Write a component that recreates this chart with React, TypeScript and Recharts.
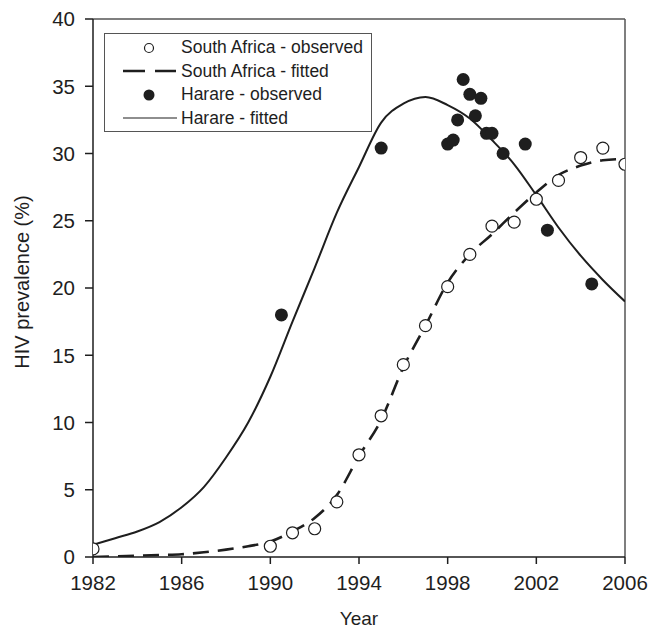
import React from "react";
import {
  ComposedChart,
  Line,
  Scatter,
  XAxis,
  YAxis,
  ReferenceLine,
  Legend,
} from "recharts";

// fitted curves, one value per year
const fitYears = [
  1982, 1983, 1984, 1985, 1986, 1987, 1988, 1989, 1990, 1991, 1992, 1993, 1994,
  1995, 1996, 1997, 1998, 1999, 2000, 2001, 2002, 2003, 2004, 2005, 2006,
];
const saFitted = [
  0.0, 0.05, 0.1, 0.15, 0.2, 0.35, 0.55, 0.8, 1.15, 1.9, 2.9, 4.6, 7.5, 10.2,
  14.1, 17.2, 20.4, 22.5, 24.0, 25.6, 27.1, 28.4, 29.1, 29.5, 29.6,
];
const harareFitted = [
  0.9, 1.4, 1.9, 2.6, 3.7, 5.2, 7.4, 10.0, 13.4, 17.5, 21.5, 25.6, 29.0, 32.3,
  33.7, 34.2, 33.6, 32.6, 31.0, 29.2, 26.9, 24.5, 22.4, 20.6, 19.0,
];

// observations
const saObsYears = [
  1982, 1990, 1991, 1992, 1993, 1994, 1995, 1996, 1997, 1998, 1999, 2000, 2001,
  2002, 2003, 2004, 2005, 2006,
];
const saObsValues = [
  0.6, 0.8, 1.8, 2.1, 4.1, 7.6, 10.5, 14.3, 17.2, 20.1, 22.5, 24.6, 24.9, 26.6,
  28.0, 29.7, 30.4, 29.2,
];
const harareObsYears = [
  1990.5, 1995, 1998, 1998.25, 1998.45, 1998.7, 1999, 1999.25, 1999.5, 1999.75,
  2000, 2000.5, 2001.5, 2002.5, 2004.5,
];
const harareObsValues = [
  18.0, 30.4, 30.7, 31.0, 32.5, 35.5, 34.4, 32.8, 34.1, 31.5, 31.5, 30.0, 30.7,
  24.3, 20.3,
];

const xTicks = [1982, 1986, 1990, 1994, 1998, 2002, 2006];
const yTicks = [0, 5, 10, 15, 20, 25, 30, 35, 40];

const legendItems = [
  { name: "South Africa - observed", kind: "open" },
  { name: "South Africa - fitted", kind: "dash" },
  { name: "Harare - observed", kind: "filled" },
  { name: "Harare - fitted", kind: "solid" },
];

const toPoints = (xs: number[], ys: number[]) =>
  xs.map((x, i) => ({ year: x, value: ys[i] }));

const saFitData = toPoints(fitYears, saFitted);
const harareFitData = toPoints(fitYears, harareFitted);
const saObsData = toPoints(saObsYears, saObsValues);
const harareObsData = toPoints(harareObsYears, harareObsValues);

const FONT = "'Liberation Sans', Arial, sans-serif";
const INK = "#1e1e1e";

const OpenDot = (props: any) => (
  <circle cx={props.cx} cy={props.cy} r={6} fill="#fff" stroke={INK} strokeWidth={1.2} />
);
const FilledDot = (props: any) => (
  <circle cx={props.cx} cy={props.cy} r={6.5} fill={INK} stroke="none" />
);

const YLabel = () => (
  <text
    x={22}
    y={282}
    transform="rotate(-90 22 282)"
    textAnchor="middle"
    dominantBaseline="central"
    fill={INK}
    fontSize={20}
    fontFamily={FONT}
  >
    HIV prevalence (%)
  </text>
);

const LegendBox = () => (
  <div
    style={{
      border: "1px solid #555",
      background: "#fff",
      width: 268,
      height: 99,
      boxSizing: "border-box",
      paddingTop: 2,
      fontFamily: FONT,
      fontSize: 17.5,
      color: INK,
    }}
  >
    {legendItems.map((item) => (
      <div key={item.name} style={{ display: "flex", alignItems: "center", height: 23.5 }}>
        <svg width={74} height={20} style={{ flex: "none" }}>
          {item.kind === "open" && (
            <circle cx={44} cy={10} r={4.5} fill="#fff" stroke={INK} strokeWidth={1.2} />
          )}
          {item.kind === "filled" && <circle cx={44} cy={10} r={5.5} fill={INK} />}
          {item.kind === "dash" && (
            <line x1={18} y1={10} x2={71} y2={10} stroke={INK} strokeWidth={2.5} strokeDasharray="22 10" />
          )}
          {item.kind === "solid" && (
            <line x1={18} y1={10} x2={72} y2={10} stroke={INK} strokeWidth={1.2} />
          )}
        </svg>
        <span style={{ marginLeft: 2, whiteSpace: "nowrap" }}>{item.name}</span>
      </div>
    ))}
  </div>
);

export default function App() {
  return (
    <div style={{ position: "absolute", left: 0, top: 0, background: "#fff" }}>
      <ComposedChart
        width={649}
        height={628}
        margin={{ top: 19, right: 24, left: 0, bottom: 0 }}
        style={{ fontFamily: FONT }}
      >
        <XAxis
          dataKey="year"
          type="number"
          domain={[1982, 2006]}
          ticks={xTicks}
          allowDataOverflow
          height={71}
          tickSize={7}
          tickMargin={11}
          axisLine={{ stroke: INK, strokeWidth: 1.5 }}
          tickLine={{ stroke: INK, strokeWidth: 1.5 }}
          tick={{ fill: INK, fontSize: 20.5 }}
          label={{ value: "Year", position: "insideBottom", offset: 3, fill: INK, fontSize: 19 }}
        />
        <YAxis
          dataKey="value"
          type="number"
          domain={[0, 40]}
          ticks={yTicks}
          allowDataOverflow
          width={93}
          tickSize={8}
          tickMargin={10}
          axisLine={{ stroke: INK, strokeWidth: 1.5 }}
          tickLine={{ stroke: INK, strokeWidth: 1.5 }}
          tick={{ fill: INK, fontSize: 20.5 }}
          label={{ content: () => <YLabel /> }}
        />
        <ReferenceLine y={40} stroke="#555" strokeWidth={1.5} />
        <ReferenceLine x={2006} stroke="#555" strokeWidth={1.5} />
        <Line
          data={harareFitData}
          dataKey="value"
          name="Harare - fitted"
          type="monotone"
          stroke={INK}
          strokeWidth={2}
          dot={false}
          isAnimationActive={false}
        />
        <Line
          data={saFitData}
          dataKey="value"
          name="South Africa - fitted"
          type="monotone"
          stroke={INK}
          strokeWidth={2.6}
          strokeDasharray="16 9"
          dot={false}
          isAnimationActive={false}
        />
        <Scatter
          data={harareObsData}
          dataKey="value"
          name="Harare - observed"
          shape={FilledDot}
          isAnimationActive={false}
        />
        <Scatter
          data={saObsData}
          dataKey="value"
          name="South Africa - observed"
          shape={OpenDot}
          isAnimationActive={false}
        />
        <Legend
          layout="vertical"
          align="center"
          verticalAlign="middle"
          content={() => <LegendBox />}
          wrapperStyle={{ left: 104, top: 33, width: 268, height: 99 }}
        />
      </ComposedChart>
    </div>
  );
}
